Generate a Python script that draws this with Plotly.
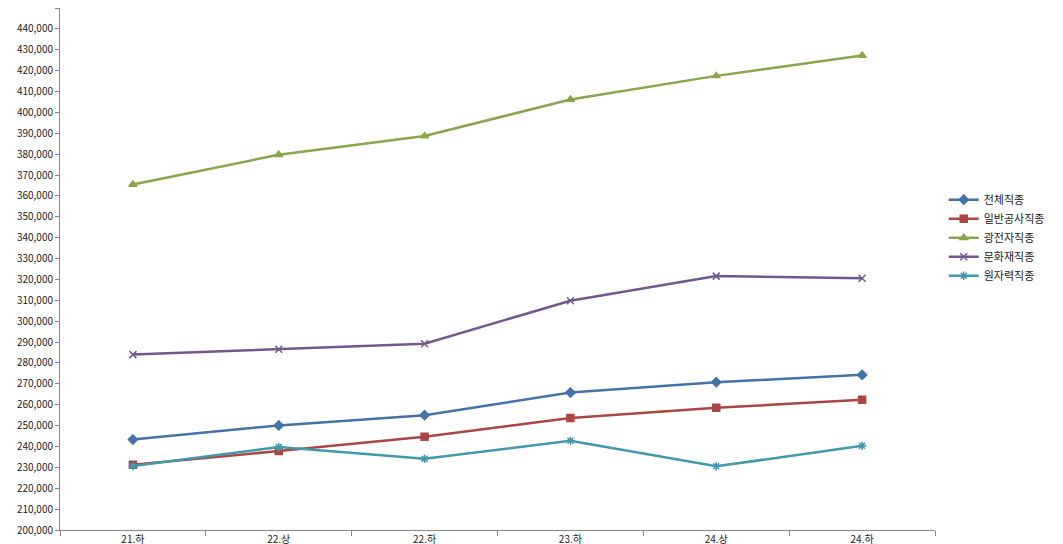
import plotly.graph_objects as go

categories = ["21.하", "22.상", "22.하", "23.하", "24.상", "24.하"]
names = ["전체직종", "일반공사직종", "광전자직종", "문화재직종", "원자력직종"]
s_total = [243300, 250100, 255000, 265800, 270800, 274300]
s_general = [231300, 237800, 244700, 253600, 258500, 262400]
s_opto = [365500, 379700, 388700, 406200, 417500, 427300]
s_heritage = [284000, 286600, 289200, 309800, 321600, 320600]
s_nuclear = [230600, 239700, 234100, 242700, 230500, 240300]

series = [s_total, s_general, s_opto, s_heritage, s_nuclear]
colors = ["#4572A7", "#AA4643", "#89A54E", "#71588F", "#4198AF"]
symbols = ["diamond", "square", "triangle-up", "x-thin", "asterisk"]

fig = go.Figure()
x = list(range(len(categories)))
for n, s, c, sym in zip(names, series, colors, symbols):
    mk = dict(symbol=sym, size=7, color=c, line=dict(color=c, width=1.5))
    fig.add_trace(go.Scatter(x=x, y=s, name=n, mode="lines+markers",
                             line=dict(color=c, width=2.5), marker=mk))

fig.update_layout(
    width=1063, height=544, plot_bgcolor="white", paper_bgcolor="white",
    margin=dict(l=52, r=136, t=0, b=22),
    font=dict(family="Noto Sans CJK KR, DejaVu Sans", size=10, color="#222"),
    legend=dict(x=1.01, y=0.56, yanchor="middle", xanchor="left",
                font=dict(size=11), tracegroupgap=2),
    xaxis=dict(tickvals=x, ticktext=categories, range=[-0.5, 5.5],
               showline=True, linecolor="#888", ticks="", showgrid=False,
               minor=dict(tick0=-0.5, dtick=1, ticks="outside", ticklen=5, tickcolor="#888"),
               zeroline=False),
    yaxis=dict(range=[200000, 450000], dtick=10000, tickformat=",",
               showline=True, linecolor="#888", ticks="outside", ticklen=4,
               tickcolor="#888", showgrid=False, zeroline=False),
)
fig.write_html("out.html")
